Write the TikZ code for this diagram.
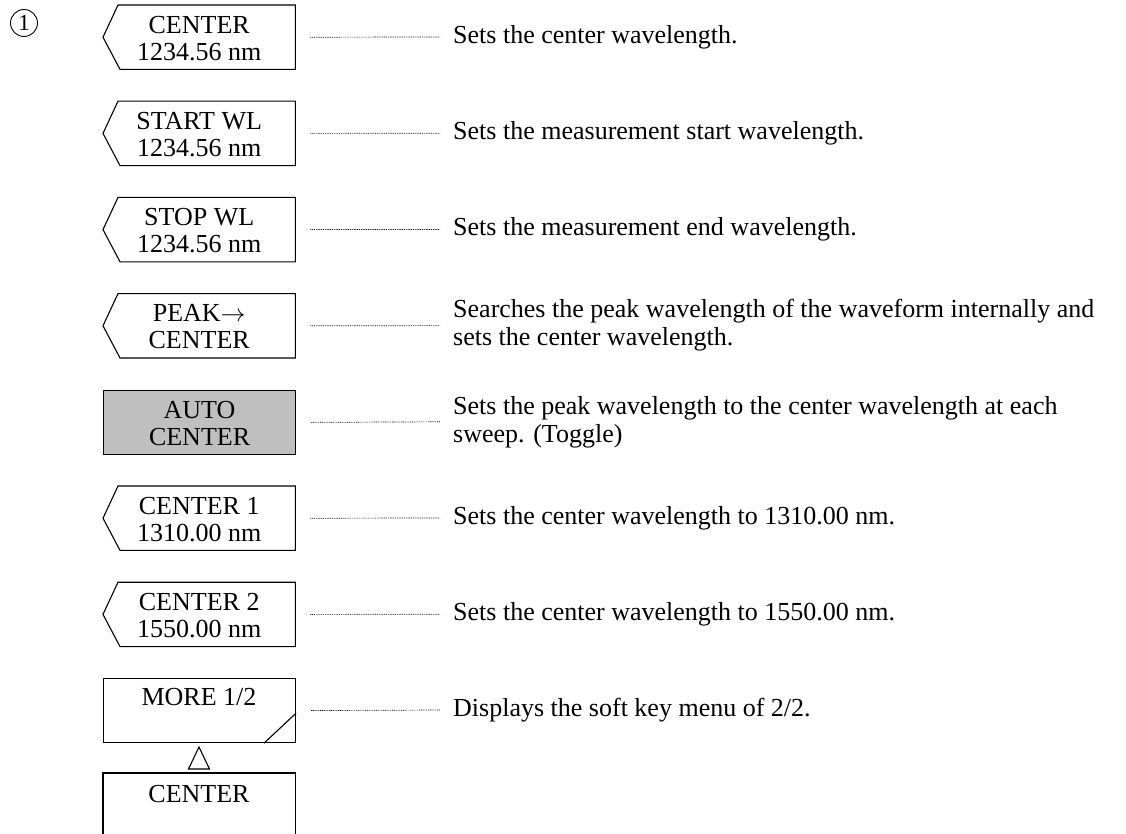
\documentclass[tikz,border=0pt]{standalone}
\usepackage{fontspec}
\setmainfont{Liberation Serif}
\begin{document}
\begin{tikzpicture}[x=1pt,y=-1pt,
  keybox/.style={minimum width=192pt,minimum height=64pt,inner sep=0pt,draw=none,anchor=north west},
  keytext/.style={font=\fontsize{26}{27}\selectfont,align=center,inner sep=0pt},
  desc/.style={font=\fontsize{26}{28}\selectfont,align=left,anchor=west,inner sep=0pt},
  outline/.style={line width=1.1pt,line join=miter},
  dotline/.style={line width=0.7pt,dash pattern=on 0.9pt off 0.9pt}]
\useasboundingbox (0,0) rectangle (1126,834);
\node[circle,draw,line width=0.9pt,minimum size=27pt,inner sep=0pt,font=\fontsize{23}{23}\selectfont] (num) at (24,23) {1};
% rows
\foreach \i/\la/\lb/\d in {0/CENTER/1234.56 nm/Sets the center wavelength.,
  1/START WL/1234.56 nm/Sets the measurement start wavelength.,
  2/STOP WL/1234.56 nm/Sets the measurement end wavelength.,
  3/PEAK$\rightarrow$/CENTER/Searches the peak wavelength of the waveform internally and\\sets the center wavelength.,
  5/CENTER 1/1310.00 nm/Sets the center wavelength to 1310.00 nm.,
  6/CENTER 2/1550.00 nm/Sets the center wavelength to 1550.00 nm.}{
  \pgfmathsetmacro\top{5+96.2*\i}
  \node[keybox] (b\i) at (103,\top) {};
  \draw[outline] ([xshift=15pt]b\i.north west) -- (b\i.north east) -- (b\i.south east)
     -- ([xshift=17pt]b\i.south west) -- (b\i.west) -- cycle;
  \node[keytext] (k\i) at ([yshift=-1pt]b\i.center) {\la\\\lb};
  \node[desc] (t\i) at (453,\top+32) {\d};
  \draw[dotline] ([xshift=15pt]b\i.east) -- ([xshift=-13pt]t\i.west);
}
% AUTO CENTER (highlighted)
\pgfmathsetmacro\topa{5+96.2*4}
\node[keybox,draw,fill=black!25,line width=1.1pt] (b4) at (103,\topa) {};
\node[keytext] (k4) at ([yshift=-1pt]b4.center) {AUTO\\CENTER};
\node[desc] (t4) at (453,\topa+32) {Sets the peak wavelength to the center wavelength at each\\sweep. (Toggle)};
\draw[dotline] ([xshift=15pt]b4.east) -- ([xshift=-13pt]t4.west);
% MORE 1/2
\node[keybox,draw,line width=1.1pt] (b7) at (103,678) {};
\draw[outline] ([xshift=-32pt]b7.south east) -- ([yshift=30pt]b7.south east);
\node[keytext,anchor=base] (k7) at (199,705) {MORE 1/2};
\node[desc] (t7) at (453,710) {Displays the soft key menu of 2/2.};
\draw[dotline] ([xshift=15pt]b7.east) -- ([xshift=-13pt]t7.west);
% triangle
\coordinate (tri) at (199,747);
\draw[line width=1.1pt,line join=miter] (tri) -- ++(10.5,22) -- ++(-21,0) -- cycle;
% parent CENTER
\node[keybox,minimum height=80pt] (b8) at (103,773) {};
\draw[outline] (b8.south west) -- (b8.north west) -- (b8.north east) -- (b8.south east);
\node[keytext,anchor=base] (k8) at (199,802) {CENTER};
\end{tikzpicture}
\end{document}
